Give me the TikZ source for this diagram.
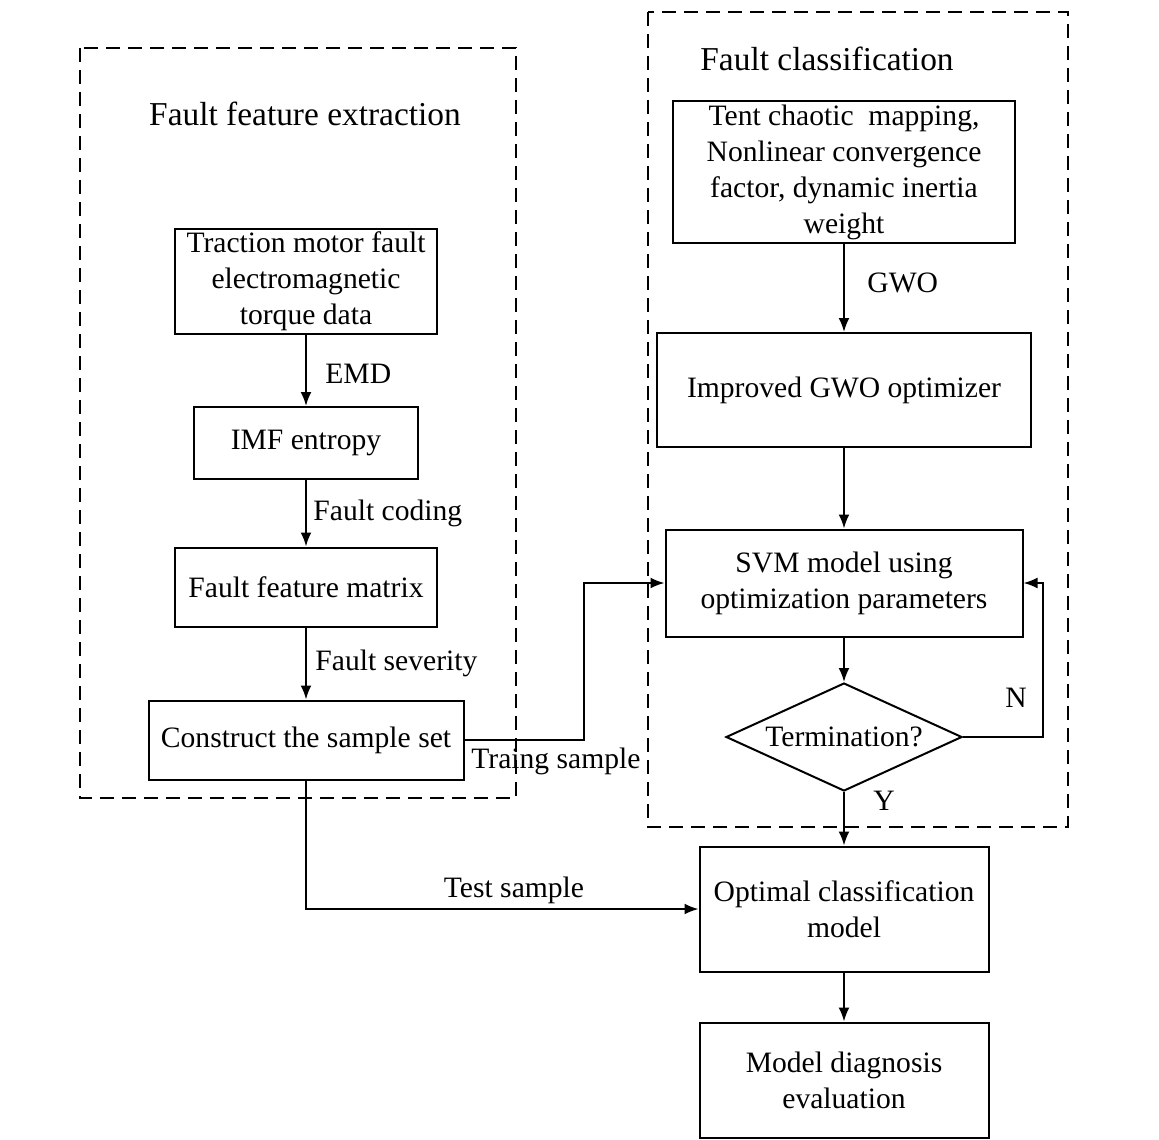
\documentclass[tikz,border=0pt]{standalone}
\usepackage{fontspec}
\setmainfont{Liberation Serif}
\usetikzlibrary{shapes.geometric,arrows.meta}
\tikzset{
  box/.style={draw,line width=1pt,inner sep=0pt,align=center,font=\fontsize{14.8}{18}\selectfont},
  lbl/.style={inner sep=0pt,font=\fontsize{14.8}{18}\selectfont},
  group/.style={draw,line width=1pt,dash pattern=on 7pt off 4pt},
  flow/.style={line width=1pt,-{Latex[length=7pt,width=5.5pt]}},
}
\begin{document}
\begin{tikzpicture}[x=0.5pt,y=-0.5pt]%
\useasboundingbox (0,0) rectangle (1159,1139);%
%
\def\colL{306};%
\def\colR{844};%
% feature extraction
\draw[group] (80,48) rectangle (516,798);%
\node[lbl,font=\fontsize{16.7}{18}\selectfont] (titleL) at (305,114) {Fault feature extraction};%
\node[box,minimum width=131pt,minimum height=52.5pt] (torque) at (\colL,281) {Traction motor fault\\electromagnetic\\torque data};%
\node[box,minimum width=112pt,minimum height=36pt] (imf) at (\colL,443) {IMF entropy};%
\node[box,minimum width=131pt,minimum height=39.5pt] (matrix) at (\colL,587) {Fault feature matrix};%
\node[box,minimum width=157.5pt,minimum height=39.5pt] (sample) at (\colL,740) {Construct the sample set};%
%
% classification
\draw[group] (648,12) rectangle (1068,827);%
\node[lbl,font=\fontsize{16.7}{18}\selectfont] (titleR) at (827,59) {Fault classification};%
\node[box,minimum width=171pt,minimum height=71pt] (tent) at (\colR,172) {Tent chaotic\ \ mapping,\\Nonlinear convergence\\factor, dynamic inertia\\weight};%
\node[box,minimum width=187pt,minimum height=57pt] (gwo) at (\colR,390) {Improved GWO optimizer};%
\node[box,minimum width=178.5pt,minimum height=53.5pt] (svm) at (\colR,583) {SVM model using\\optimization parameters};%
\node[box,shape=diamond,aspect=2.19,minimum width=118pt,minimum height=54pt] (term) at (\colR,737) {Termination?};%
%
\node[box,minimum width=144.5pt,minimum height=62.5pt] (optimal) at (\colR,909) {Optimal classification\\model};%
\node[box,minimum width=144.5pt,minimum height=57.5pt] (diag) at (\colR,1080) {Model diagnosis\\evaluation};%
%
\draw[flow] (torque) -- (imf);%
\draw[flow] (imf) -- (matrix);%
\draw[flow] (matrix) -- (sample);%
\draw[flow] (tent) -- (gwo);%
\draw[flow] (gwo) -- (svm);%
\draw[flow] (svm) -- (term);%
\draw[flow] (term) -- (optimal);%
\draw[flow] (optimal) -- (diag);%
\draw[flow] (sample.east) -- ++(119,0) |- (svm.west);%
\draw[flow] (sample.south) |- (optimal.west);%
\draw[flow] (term.east) -- ++(80,0) |- (svm.east);%
%
\node[lbl,anchor=west] (emd) at (325,374) {EMD};%
\node[lbl,anchor=west] (coding) at (313,513) {Fault coding};%
\node[lbl,anchor=west] (severity) at (315,663) {Fault severity};%
\node[lbl,anchor=west] (gwolbl) at (867,283) {GWO};%
\node[lbl,anchor=west] (train) at (471,761) {Traing sample};%
\node[lbl] (test) at (514,890) {Test sample};%
\node[lbl] (no) at (1016,698) {N};%
\node[lbl] (yes) at (884,801) {Y};%
\end{tikzpicture}
\end{document}
